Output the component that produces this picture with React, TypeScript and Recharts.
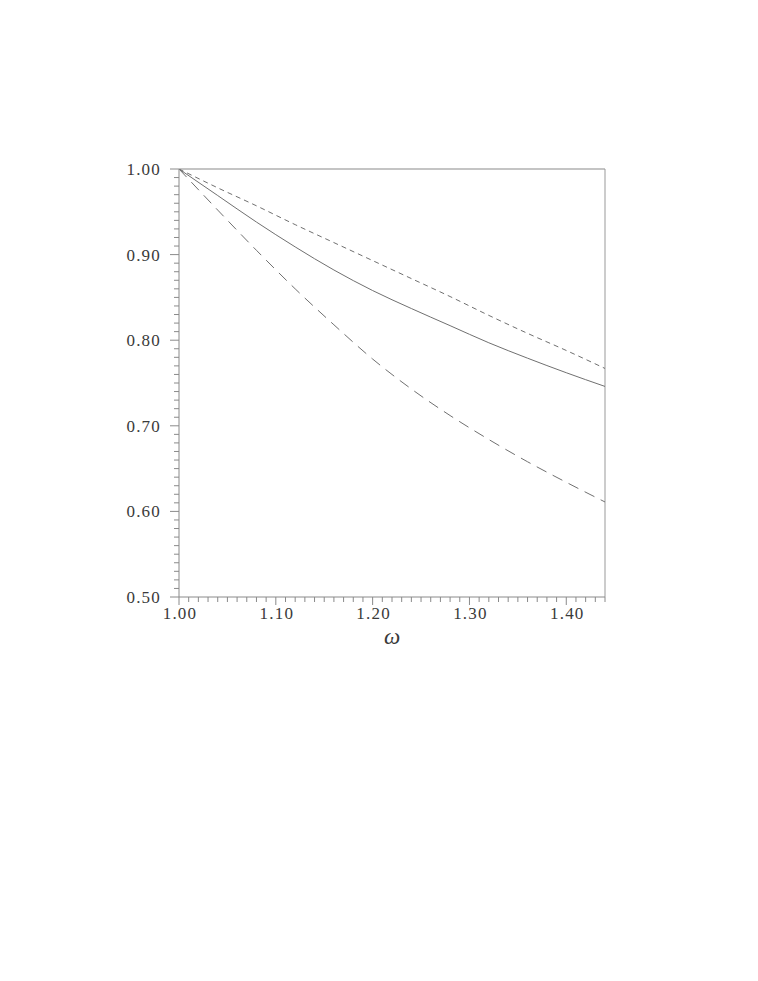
import React from 'react';
import { LineChart, Line, XAxis, YAxis, ReferenceLine } from 'recharts';

const omega = [1.0, 1.04, 1.08, 1.12, 1.16, 1.2, 1.24, 1.28, 1.32, 1.36, 1.4, 1.44];
const solidSeries = [1.0, 0.969, 0.938, 0.909, 0.882, 0.858, 0.837, 0.817, 0.797, 0.779, 0.762, 0.746];
const shortDashSeries = [1.0, 0.978, 0.957, 0.935, 0.914, 0.893, 0.872, 0.851, 0.829, 0.808, 0.788, 0.767];
const longDashSeries = [1.0, 0.952, 0.905, 0.86, 0.818, 0.778, 0.743, 0.712, 0.684, 0.658, 0.634, 0.611];

const xMajorTicks = [1.0, 1.1, 1.2, 1.3, 1.4];
const yMajorTicks = [0.5, 0.6, 0.7, 0.8, 0.9, 1.0];
const xMinorTicks = Array.from({ length: 45 }, (_, i) => Math.round(100 + i) / 100);
const yMinorTicks = Array.from({ length: 51 }, (_, i) => Math.round(50 + i) / 100);

const data = omega.map((w, i) => ({
  w,
  solid: solidSeries[i],
  shortDash: shortDashSeries[i],
  longDash: longDashSeries[i],
}));

const AXIS = '#8a8a8a';
const CURVE = '#707070';
const TEXT = '#3a3a3a';
const FONT = '"Liberation Serif", "DejaVu Serif", serif';

const isMajor = (v: number, majors: number[]) => majors.some((m) => Math.abs(m - v) < 1e-6);

const XTick = (props: any) => {
  const { x, y, payload } = props;
  const major = isMajor(payload.value, xMajorTicks);
  return (
    <g>
      <line x1={x} x2={x} y1={y} y2={y + (major ? 8 : 5)} stroke={AXIS} strokeWidth={1} />
      {major && (
        <text
          x={x + 1}
          y={y + 22}
          textAnchor="middle"
          fontFamily={FONT}
          fontSize={17}
          letterSpacing={1.2}
          fill={TEXT}
        >
          {payload.value.toFixed(2)}
        </text>
      )}
    </g>
  );
};

const YTick = (props: any) => {
  const { x, y, payload } = props;
  const major = isMajor(payload.value, yMajorTicks);
  return (
    <g>
      <line x1={x} x2={x - (major ? 9 : 5)} y1={y} y2={y} stroke={AXIS} strokeWidth={1} />
      {major && (
        <text
          x={x - 18}
          y={y + 6}
          textAnchor="end"
          fontFamily={FONT}
          fontSize={17}
          letterSpacing={1.2}
          fill={TEXT}
        >
          {payload.value.toFixed(2)}
        </text>
      )}
    </g>
  );
};

export default function App() {
  return (
    <div style={{ width: 750, height: 720 }}>
      <LineChart
        width={750}
        height={720}
        data={data}
        margin={{ top: 161, left: 111, right: 153, bottom: 101 }}
      >
        <XAxis
          dataKey="w"
          type="number"
          domain={[1.0, 1.44]}
          ticks={xMinorTicks}
          interval={0}
          tick={<XTick />}
          tickLine={false}
          tickSize={0}
          tickMargin={0}
          height={30}
          axisLine={{ stroke: AXIS }}
          allowDataOverflow
          label={{
            value: 'ω',
            position: 'bottom',
            offset: 1,
            style: { fontFamily: FONT, fontStyle: 'italic', fontSize: 23, fill: TEXT },
          }}
        />
        <YAxis
          type="number"
          domain={[0.5, 1.0]}
          ticks={yMinorTicks}
          interval={0}
          tick={<YTick />}
          tickLine={false}
          tickSize={0}
          tickMargin={0}
          width={60}
          axisLine={{ stroke: AXIS }}
          allowDataOverflow
        />
        <ReferenceLine y={1.0} stroke="#c4c4c4" strokeWidth={2} />
        <ReferenceLine x={1.44} stroke="#999999" strokeWidth={1} />
        <Line
          dataKey="shortDash"
          type="monotone"
          stroke={CURVE}
          strokeWidth={1}
          strokeDasharray="5 4"
          dot={false}
          isAnimationActive={false}
        />
        <Line
          dataKey="solid"
          type="monotone"
          stroke={CURVE}
          strokeWidth={1}
          dot={false}
          isAnimationActive={false}
        />
        <Line
          dataKey="longDash"
          type="monotone"
          stroke={CURVE}
          strokeWidth={1}
          strokeDasharray="11 7"
          dot={false}
          isAnimationActive={false}
        />
      </LineChart>
    </div>
  );
}
